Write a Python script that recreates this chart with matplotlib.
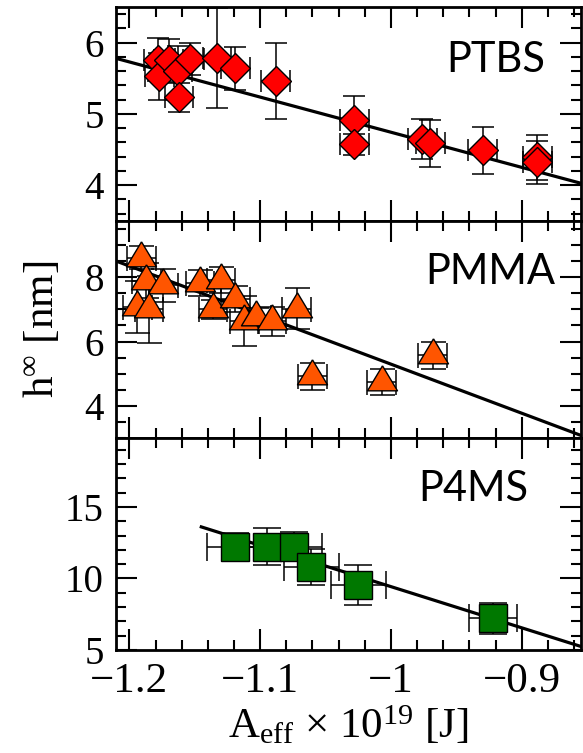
import numpy as np
import matplotlib
matplotlib.use('Agg')
import matplotlib.pyplot as plt
from matplotlib.ticker import MultipleLocator, FuncFormatter

# PTBS (diamonds)
ptbs_x = [-1.178, -1.177, -1.170, -1.163, -1.162, -1.154, -1.133, -1.119, -1.088,
          -1.028, -1.028, -0.976, -0.970, -0.930, -0.888, -0.888]
ptbs_y = [5.76, 5.53, 5.75, 5.60, 5.23, 5.77, 5.78, 5.64, 5.46,
          4.91, 4.57, 4.65, 4.59, 4.49, 4.39, 4.32]
ptbs_yerr = [0.30, 0.33, 0.30, 0.35, 0.20, 0.22, 0.70, 0.30, 0.53,
             0.34, 0.15, 0.28, 0.33, 0.33, 0.32, 0.30]
ptbs_xerr = 0.011
ptbs_fit = (-4.934, -0.192)   # slope, intercept

# PMMA (triangles)
pmma_x = [-1.191, -1.187, -1.174, -1.194, -1.185, -1.146, -1.130, -1.136,
          -1.119, -1.112, -1.103, -1.091, -1.072, -1.060, -1.007, -0.968]
pmma_y = [8.60, 7.89, 7.74, 7.07, 7.00, 7.81, 7.92, 7.00,
          7.31, 6.63, 6.75, 6.63, 7.02, 4.93, 4.74, 5.57]
pmma_yerr = [0.35, 0.55, 0.50, 0.80, 1.05, 0.40, 0.40, 0.30,
             0.40, 0.78, 0.30, 0.45, 0.63, 0.42, 0.41, 0.41]
pmma_xerr = 0.011
pmma_fit = (-15.22, -9.92)

# P4MS (squares)
p4ms_x = [-1.119, -1.095, -1.074, -1.061, -1.025, -0.922]
p4ms_y = [12.19, 12.23, 12.23, 10.79, 9.55, 7.21]
p4ms_yerr = [1.00, 1.27, 1.00, 1.28, 1.40, 1.07]
p4ms_xerr = [0.022, 0.020, 0.021, 0.021, 0.021, 0.018]
p4ms_fit = (-28.8, -19.37)
p4ms_fit_start = -1.145

names = ['PTBS', 'PMMA', 'P4MS']

plt.rcParams['font.family'] = 'serif'
plt.rcParams['font.serif'] = ['Liberation Serif', 'DejaVu Serif']
plt.rcParams['mathtext.fontset'] = 'custom'
plt.rcParams['mathtext.rm'] = 'Liberation Serif'
plt.rcParams['mathtext.it'] = 'Liberation Serif:italic'

tri = [(0, 1), (-0.9, -0.5), (0.9, -0.5), (0, 1)]

fig = plt.figure(figsize=(5.83, 7.53), dpi=100)
gs = fig.add_gridspec(3, 1, height_ratios=[213.7, 217.6, 211.7], hspace=0,
                      left=0.199, right=0.997, top=0.9907, bottom=0.1368)
axes = [fig.add_subplot(gs[i]) for i in range(3)]
xlim = (-1.2102, -0.8545)

series = [
    (ptbs_x, ptbs_y, ptbs_xerr, ptbs_yerr, ptbs_fit, -1.3, 'D', 15.3, '#ff0000', 8),
    (pmma_x, pmma_y, pmma_xerr, pmma_yerr, pmma_fit, -1.3, tri, 24, '#ff5500', 9),
    (p4ms_x, p4ms_y, p4ms_xerr, p4ms_yerr, p4ms_fit, p4ms_fit_start, 's', 20.5, '#007800', 10),
]
ylims = [(3.5, 6.5), (3, 9.75), (5, 19.8)]
ymaj = [1, 2, 5]
ymin = [0.2, 0.5, 1]
label_pos = [(0.923, 0.752), (0.944, 0.764), (0.886, 0.76)]

fmt = FuncFormatter(lambda v, p: ('%g' % round(v, 3)).replace('-', '\u2212'))

for i, ax in enumerate(axes):
    x, y, xe, ye, fit, x0, mk, ms, col, cs = series[i]
    ax.errorbar(x, y, xerr=xe, yerr=ye, fmt='none', ecolor='k', elinewidth=1.1,
                capsize=cs, capthick=1.1, zorder=2)
    xf = np.array([x0, -0.8])
    ax.plot(xf, fit[0] * xf + fit[1], color='k', lw=2.3, zorder=3)
    ax.plot(x, y, linestyle='none', marker=mk, markersize=ms, markerfacecolor=col,
            markeredgecolor='k', markeredgewidth=1.0, zorder=4)
    ax.set_xlim(xlim)
    ax.set_ylim(ylims[i])
    ax.xaxis.set_major_locator(MultipleLocator(0.1))
    ax.xaxis.set_minor_locator(MultipleLocator(0.02))
    ax.xaxis.set_major_formatter(fmt)
    ax.yaxis.set_major_locator(MultipleLocator(ymaj[i]))
    ax.yaxis.set_minor_locator(MultipleLocator(ymin[i]))
    ax.yaxis.set_major_formatter(fmt)
    ax.tick_params(which='both', direction='in', top=True, right=True, width=1.5)
    ax.tick_params(which='major', length=15)
    ax.tick_params(which='minor', length=7.5)
    ax.tick_params(axis='y', labelsize=28, pad=9)
    ax.tick_params(axis='x', labelsize=31, pad=9)
    for s in ax.spines.values():
        s.set_linewidth(2)
    if i < 2:
        ax.tick_params(axis='x', labelbottom=False)
    ax.text(label_pos[i][0], label_pos[i][1], names[i], transform=ax.transAxes,
            ha='right', va='center', fontsize=30, family=['Lato', 'DejaVu Sans'])

axes[1].set_ylabel('h$^\\mathregular{∞}$ [nm]', fontsize=31, labelpad=16)
axes[2].set_xlabel('A$_\\mathregular{eff}$ × 10$^\\mathregular{19}$ [J]', fontsize=31, labelpad=2)

fig.savefig('out.png', dpi=100)
